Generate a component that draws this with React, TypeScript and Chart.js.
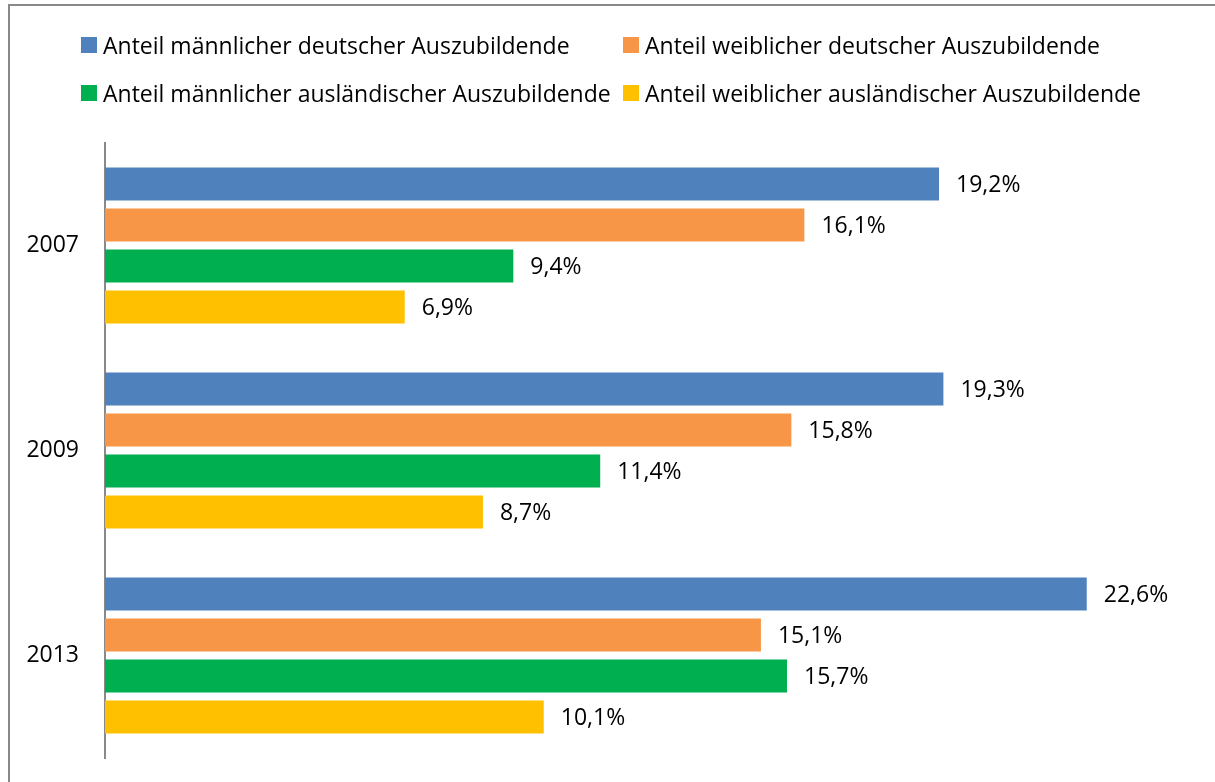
import React, { useEffect, useRef } from "react";
import { Chart, registerables } from "chart.js";

Chart.register(...registerables);

const categories = ["2007", "2009", "2013"];
const seriesNames = [
  "Anteil männlicher deutscher Auszubildende",
  "Anteil weiblicher deutscher Auszubildende",
  "Anteil männlicher ausländischer Auszubildende",
  "Anteil weiblicher ausländischer Auszubildende",
];
const maleGerman = [19.2, 19.3, 22.6];
const femaleGerman = [16.1, 15.8, 15.1];
const maleForeign = [9.4, 11.4, 15.7];
const femaleForeign = [6.9, 8.7, 10.1];
const colors = ["#4F81BD", "#F79646", "#00B050", "#FFC000"];

const FONT = "'Open Sans', 'DejaVu Sans', sans-serif";
const FONT_SIZE = 23;

const fmt = (v: number) => v.toFixed(1).replace(".", ",") + "%";

const labelPlugin = {
  id: "barLabels",
  afterDatasetsDraw(chart: any) {
    const ctx = chart.ctx;
    ctx.save();
    ctx.font = `${FONT_SIZE}px ${FONT}`;
    ctx.fillStyle = "#000";
    ctx.textAlign = "left";
    ctx.textBaseline = "middle";
    chart.data.datasets.forEach((ds: any, di: number) => {
      const meta = chart.getDatasetMeta(di);
      meta.data.forEach((bar: any, i: number) => {
        ctx.fillText(fmt(ds.data[i]), bar.x + 17, bar.y + 1);
      });
    });
    ctx.restore();
  },
};

export default function App() {
  const canvasRef = useRef<HTMLCanvasElement | null>(null);

  useEffect(() => {
    const canvas = canvasRef.current;
    if (!canvas) return;
    const seriesData = [maleGerman, femaleGerman, maleForeign, femaleForeign];
    const chart = new Chart(canvas, {
      type: "bar",
      data: {
        labels: categories,
        datasets: seriesData.map((d, i) => ({
          label: seriesNames[i],
          data: d,
          backgroundColor: colors[i],
          borderWidth: 0,
          barPercentage: 0.8,
          categoryPercentage: 0.8,
        })),
      },
      options: {
        indexAxis: "y",
        animation: false,
        responsive: false,
        maintainAspectRatio: false,
        layout: { padding: { left: 0, right: 24, top: 143, bottom: 24 } },
        plugins: {
          legend: { display: false },
          tooltip: { enabled: false },
        },
        scales: {
          x: {
            display: false,
            min: 0,
            max: 25,
          },
          y: {
            afterFit: (scale: any) => {
              scale.width = 105;
              scale.paddingTop = 0;
              scale.paddingBottom = 0;
            },
            grid: { display: false, drawTicks: false },
            border: { display: true, color: "#898989", width: 2 },
            ticks: {
              color: "#000",
              padding: 26,
              font: { family: FONT, size: FONT_SIZE },
            },
          },
        },
      },
      plugins: [labelPlugin],
    });
    return () => chart.destroy();
  }, []);

  const legendPos = [
    { x: 81, y: 45 },
    { x: 623, y: 45 },
    { x: 81, y: 93 },
    { x: 623, y: 93 },
  ];

  return (
    <div
      style={{
        position: "fixed",
        left: 0,
        top: 0,
        width: 1215,
        height: 782,
        overflow: "hidden",
        background: "#fff",
      }}
    >
      <div
        style={{
          position: "absolute",
          left: 8,
          top: 4,
          width: 1400,
          height: 1000,
          border: "2px solid #898989",
        }}
      />
      <canvas
        ref={canvasRef}
        width={1215}
        height={782}
        style={{ position: "absolute", left: 0, top: 0, width: 1215, height: 782 }}
      />
      {legendPos.map((p, i) => (
        <div
          key={i}
          style={{
            position: "absolute",
            left: p.x,
            top: p.y - 16,
            height: 32,
            display: "flex",
            alignItems: "center",
            whiteSpace: "nowrap",
            fontFamily: FONT,
            fontSize: FONT_SIZE,
            color: "#000",
          }}
        >
          <span
            style={{
              display: "inline-block",
              width: 16,
              height: 16,
              background: colors[i],
              marginRight: 6,
            }}
          />
          <span>{seriesNames[i]}</span>
        </div>
      ))}
    </div>
  );
}
